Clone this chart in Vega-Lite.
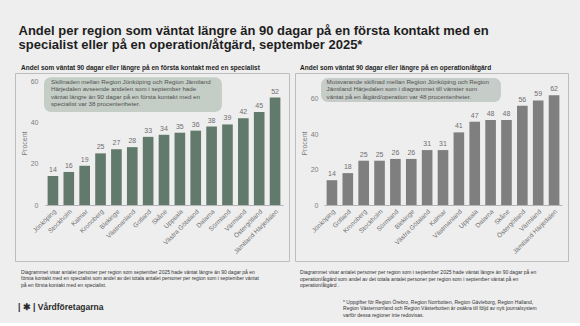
{
  "$schema": "https://vega.github.io/schema/vega-lite/v6.json",
  "background": "#eeeeee",
  "padding": {"left": 14, "top": 24, "right": 14, "bottom": 4},
  "title": {
    "text": ["Andel per region som väntat längre än 90 dagar på en första kontakt med en", "specialist eller på en operation/åtgärd, september 2025*"],
    "anchor": "start", "fontSize": 13, "fontWeight": "bold", "font": "Liberation Sans",
    "color": "#1e1e1e", "lineHeight": 14.5, "dx": 4, "offset": 12
  },
  "config": {
    "font": "Liberation Sans",
    "view": {"stroke": "#bdbdbd", "strokeWidth": 1},
    "axis": {"labelOverlap": false, "labelSeparation": 0}
  },
  "datasets": {
    "spec": [
      {"region": "Jönköping", "value": 14},
      {"region": "Stockholm", "value": 16},
      {"region": "Kalmar", "value": 19},
      {"region": "Kronoberg", "value": 25},
      {"region": "Blekinge", "value": 27},
      {"region": "Västmanland", "value": 28},
      {"region": "Gotland", "value": 33},
      {"region": "Skåne", "value": 34},
      {"region": "Uppsala", "value": 35},
      {"region": "Västra Götaland", "value": 36},
      {"region": "Dalarna", "value": 38},
      {"region": "Sörmland", "value": 39},
      {"region": "Värmland", "value": 42},
      {"region": "Östergötland", "value": 45},
      {"region": "Jämtland Härjedalen", "value": 52}
    ],
    "op": [
      {"region": "Jönköping", "value": 14},
      {"region": "Gotland", "value": 18},
      {"region": "Kronoberg", "value": 25},
      {"region": "Stockholm", "value": 25},
      {"region": "Sörmland", "value": 26},
      {"region": "Blekinge", "value": 26},
      {"region": "Västra Götaland", "value": 31},
      {"region": "Kalmar", "value": 31},
      {"region": "Västmanland", "value": 41},
      {"region": "Uppsala", "value": 47},
      {"region": "Dalarna", "value": 48},
      {"region": "Skåne", "value": 48},
      {"region": "Östergötland", "value": 56},
      {"region": "Värmland", "value": 59},
      {"region": "Jämtland Härjedalen", "value": 62}
    ],
    "textsSpec": [{
      "subtitle": "Andel som väntat 90 dagar eller längre på en första kontakt med en specialist",
      "note": ["Skillnaden mellan Region Jönköping och Region Jämtland", "Härjedalen avseende andelen som i september hade", "väntat längre än 90 dagar på en första kontakt med en", "specialist var 38 procentenheter."],
      "caption": ["Diagrammet visar antalet personer per region som september 2025 hade väntat längre än 90 dagar på en", "första kontakt med en specialist som andel av det totala antalet personer per region som i september väntat", "på en första kontakt med en specialist."],
      "logo": "| ✱ | Vårdföretagarna"
    }],
    "textsOp": [{
      "subtitle": "Andel som väntat 90 dagar eller längre på en operation/åtgärd",
      "note": ["Motsvarande skillnad mellan Region Jönköping och Region", "Jämtland Härjedalen som i diagrammet till vänster som", "väntat på en åtgärd/operation var 48 procentenheter."],
      "caption": ["Diagrammet visar antalet personer per region som i september 2025 hade väntat längre än 90 dagar på en", "operation/åtgärd som andel av det totala antalet personer per region som i september väntat på en", "operation/åtgärd ."],
      "footnote": ["* Uppgifter för Region Örebro, Region Norrbotten, Region Gävleborg, Region Halland,", "Region Västernorrland och Region Västerbotten är osäkra till följd av nytt journalsystem", "varför dessa regioner inte redovisas."]
    }]
  },
  "spacing": 4,
  "hconcat": [
    {
      "width": 274,
      "height": 188,
      "layer": [
        {
          "data": {"name": "spec"},
          "mark": {"type": "bar", "color": "#617a6b"},
          "encoding": {
            "x": {"field": "region", "type": "nominal", "sort": null,
              "scale": {"type": "band", "range": [30, 268], "paddingInner": 0.33, "paddingOuter": 0.165},
              "axis": {"orient": "bottom", "offset": -56, "labelAngle": -45, "labelFontSize": 6.5, "labelColor": "#6e6e6e", "ticks": false, "domainColor": "#b4b4b4", "title": "", "titleOpacity": 0, "labelPadding": 3, "labelLimit": 200, "labelOverlap": false}},
            "y": {"field": "value", "type": "quantitative",
              "scale": {"domain": [-27.1, 63.9], "nice": false, "zero": false},
              "axis": {"values": [0, 10, 20, 30, 40, 50, 60], "grid": false, "domain": false, "ticks": false, "offset": -30, "labelPadding": 7, "labelFontSize": 7, "labelColor": "#7d7d7d", "labelOverlap": false, "title": "Procent", "titleFontSize": 7, "titleFontWeight": "normal", "titleColor": "#7d7d7d", "titlePadding": 3, "titleY": 70}},
            "y2": {"datum": 0}
          }
        },
        {
          "data": {"name": "spec"},
          "mark": {"type": "text", "baseline": "bottom", "dy": -3, "fontSize": 7, "color": "#6e6e6e"},
          "encoding": {
            "x": {"field": "region", "type": "nominal", "sort": null},
            "y": {"field": "value", "type": "quantitative"},
            "text": {"field": "value", "type": "quantitative"}
          }
        },
        {
          "data": {"name": "textsSpec"},
          "mark": {"type": "rect", "cornerRadius": 7, "fill": "#c4cec7", "xOffset": -3.6, "x2Offset": 5},
          "encoding": {
            "x": {"datum": "Jönköping", "type": "nominal", "bandPosition": 0},
            "x2": {"datum": "Dalarna", "bandPosition": 1},
            "y": {"datum": 61.9, "type": "quantitative"},
            "y2": {"datum": 45}
          }
        },
        {
          "data": {"name": "textsSpec"},
          "mark": {"type": "text", "align": "left", "baseline": "top", "fontSize": 6.2, "lineHeight": 7.3, "color": "#505050", "xOffset": 3.4},
          "encoding": {
            "x": {"datum": "Jönköping", "type": "nominal", "bandPosition": 0},
            "y": {"datum": 61, "type": "quantitative"},
            "text": {"field": "note"}
          }
        },
        {
          "data": {"name": "textsSpec"},
          "mark": {"type": "text", "align": "left", "baseline": "middle", "fontSize": 6.5, "fontWeight": "bold", "color": "#1e1e1e", "xOffset": -26.6},
          "encoding": {
            "x": {"datum": "Jönköping", "type": "nominal", "bandPosition": 0},
            "y": {"datum": 66.3, "type": "quantitative"},
            "text": {"field": "subtitle"}
          }
        },
        {
          "data": {"name": "textsSpec"},
          "mark": {"type": "text", "align": "left", "baseline": "top", "fontSize": 5, "lineHeight": 6.5, "color": "#333333", "xOffset": -26.6},
          "encoding": {
            "x": {"datum": "Jönköping", "type": "nominal", "bandPosition": 0},
            "y": {"datum": -31.4, "type": "quantitative"},
            "text": {"field": "caption"}
          }
        },
        {
          "data": {"name": "textsSpec"},
          "mark": {"type": "text", "align": "left", "baseline": "middle", "fontSize": 8.5, "fontWeight": "bold", "color": "#2a2a2a", "xOffset": -29.6},
          "encoding": {
            "x": {"datum": "Jönköping", "type": "nominal", "bandPosition": 0},
            "y": {"datum": -49.3, "type": "quantitative"},
            "text": {"field": "logo"}
          }
        }
      ]
    },
    {
      "width": 273,
      "height": 188,
      "layer": [
        {
          "data": {"name": "op"},
          "mark": {"type": "bar", "color": "#7f7f7f"},
          "encoding": {
            "x": {"field": "region", "type": "nominal", "sort": null,
              "scale": {"type": "band", "range": [29, 267], "paddingInner": 0.33, "paddingOuter": 0.165},
              "axis": {"orient": "bottom", "offset": -56, "labelAngle": -45, "labelFontSize": 6.5, "labelColor": "#6e6e6e", "ticks": false, "domainColor": "#b4b4b4", "title": "", "titleOpacity": 0, "labelPadding": 3, "labelLimit": 200, "labelOverlap": false}},
            "y": {"field": "value", "type": "quantitative",
              "scale": {"domain": [-31.6, 74.5], "nice": false, "zero": false},
              "axis": {"values": [0, 10, 20, 30, 40, 50, 60, 70], "grid": false, "domain": false, "ticks": false, "offset": -29, "labelPadding": 6, "labelFontSize": 7, "labelColor": "#7d7d7d", "labelOverlap": false, "title": "Procent", "titleFontSize": 7, "titleFontWeight": "normal", "titleColor": "#7d7d7d", "titlePadding": 3, "titleY": 70}},
            "y2": {"datum": 0}
          }
        },
        {
          "data": {"name": "op"},
          "mark": {"type": "text", "baseline": "bottom", "dy": -3, "fontSize": 7, "color": "#6e6e6e"},
          "encoding": {
            "x": {"field": "region", "type": "nominal", "sort": null},
            "y": {"field": "value", "type": "quantitative"},
            "text": {"field": "value", "type": "quantitative"}
          }
        },
        {
          "data": {"name": "textsOp"},
          "mark": {"type": "rect", "cornerRadius": 7, "fill": "#c6ccc8", "xOffset": -5.6, "x2Offset": 5},
          "encoding": {
            "x": {"datum": "Jönköping", "type": "nominal", "bandPosition": 0},
            "x2": {"datum": "Dalarna", "bandPosition": 1},
            "y": {"datum": 71.7, "type": "quantitative"},
            "y2": {"datum": 58.2}
          }
        },
        {
          "data": {"name": "textsOp"},
          "mark": {"type": "text", "align": "left", "baseline": "top", "fontSize": 6.2, "lineHeight": 7.3, "color": "#505050", "xOffset": 0},
          "encoding": {
            "x": {"datum": "Jönköping", "type": "nominal", "bandPosition": 0},
            "y": {"datum": 71.1, "type": "quantitative"},
            "text": {"field": "note"}
          }
        },
        {
          "data": {"name": "textsOp"},
          "mark": {"type": "text", "align": "left", "baseline": "middle", "fontSize": 6.5, "fontWeight": "bold", "color": "#1e1e1e", "xOffset": -26.6},
          "encoding": {
            "x": {"datum": "Jönköping", "type": "nominal", "bandPosition": 0},
            "y": {"datum": 77.4, "type": "quantitative"},
            "text": {"field": "subtitle"}
          }
        },
        {
          "data": {"name": "textsOp"},
          "mark": {"type": "text", "align": "left", "baseline": "top", "fontSize": 5, "lineHeight": 6.5, "color": "#333333", "xOffset": -26.6},
          "encoding": {
            "x": {"datum": "Jönköping", "type": "nominal", "bandPosition": 0},
            "y": {"datum": -36.7, "type": "quantitative"},
            "text": {"field": "caption"}
          }
        },
        {
          "data": {"name": "textsOp"},
          "mark": {"type": "text", "align": "left", "baseline": "top", "fontSize": 5, "lineHeight": 6.5, "color": "#333333", "xOffset": 16.4},
          "encoding": {
            "x": {"datum": "Jönköping", "type": "nominal", "bandPosition": 0},
            "y": {"datum": -53.6, "type": "quantitative"},
            "text": {"field": "footnote"}
          }
        }
      ]
    }
  ]
}
